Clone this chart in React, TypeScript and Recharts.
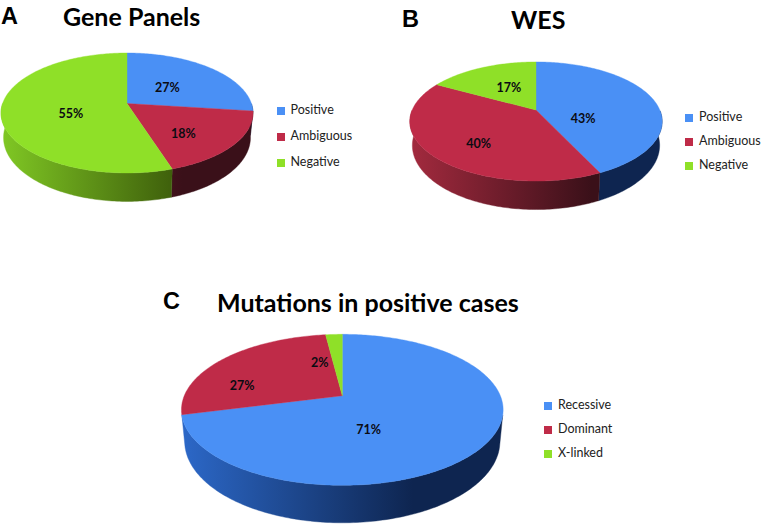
import React from "react";
import { PieChart, Pie, Cell, Legend } from "recharts";

const panelALabels = ["Positive", "Ambiguous", "Negative"];
const panelAValues = [27, 18, 55];
const panelBLabels = ["Positive", "Ambiguous", "Negative"];
const panelBValues = [43, 40, 17];
const panelCLabels = ["Recessive", "Dominant", "X-linked"];
const panelCValues = [71, 27, 2];

const BLUE = "#4a90f5";
const RED = "#bf2b48";
const GREEN = "#8fe028";
const WALLS: Record<string, [string, string]> = {
  [BLUE]: ["#2c68c8", "#0e2550"],
  [RED]: ["#a32a3e", "#3a1019"],
  [GREEN]: ["#80c824", "#3b5a0a"],
};

const toRows = (labels: string[], values: number[]) =>
  labels.map((name, i) => ({ name, value: values[i] }));

type View = { ratio: number; k: number; depth: number; shrink: number; wallFrom: number };

// Perspective projection of a point on the pie's circular face
function project(cx: number, cy: number, r: number, view: View, mathAngle: number, frac = 1) {
  const t = (mathAngle * Math.PI) / 180;
  const u = Math.cos(t) * frac;
  const v = -Math.sin(t) * frac;
  const w = 1 - view.k * v;
  return { x: cx + (r * u) / w, y: cy + (r * view.ratio * v) / w, w, v };
}

function arc(cx: number, cy: number, r: number, view: View, startAngle: number, endAngle: number) {
  const lo = Math.min(startAngle, endAngle);
  const hi = Math.max(startAngle, endAngle);
  const steps = Math.max(2, Math.ceil(hi - lo));
  const pts: { x: number; y: number; w: number; v: number }[] = [];
  for (let i = 0; i <= steps; i++) {
    const a = lo + ((hi - lo) * i) / steps;
    pts.push(project(cx, cy, r, view, a));
  }
  return pts;
}

function makeTop(view: View) {
  return function TopSlice(props: any) {
    const { cx, cy, outerRadius: r, startAngle, endAngle, fill } = props;
    const rim = arc(cx, cy, r, view, startAngle, endAngle);
    const d = `M${cx},${cy} ` + rim.map((p) => `L${p.x.toFixed(2)},${p.y.toFixed(2)}`).join(" ") + " Z";
    return <path d={d} fill={fill} stroke={fill} strokeWidth={0.4} />;
  };
}

function makeWall(id: string, view: View) {
  return function WallSlice(props: any) {
    const { cx, cy, outerRadius: r, startAngle, endAngle, fill, index } = props;
    // the part of the rim that faces the viewer
    const front = arc(cx, cy, r, view, startAngle, endAngle).filter((p) => p.v >= view.wallFrom);
    if (front.length < 2) return <g />;
    const lower = [...front]
      .reverse()
      .map((p) => `${(cx + (p.x - cx) * view.shrink).toFixed(2)},${(p.y + view.depth / p.w).toFixed(2)}`);
    const d = "M" + front.map((p) => `${p.x.toFixed(2)},${p.y.toFixed(2)}`).join(" L") + " L" + lower.join(" L") + " Z";
    const gid = `${id}-wall-${index}`;
    const halfW = r / Math.sqrt(1 - view.k * view.k);
    const [light, dark] = WALLS[fill] || [fill, fill];
    return (
      <g>
        <defs>
          <linearGradient id={gid} gradientUnits="userSpaceOnUse" x1={cx - halfW} x2={cx + halfW} y1={0} y2={0}>
            <stop offset="0" stopColor={light} />
            <stop offset="0.72" stopColor={dark} />
            <stop offset="1" stopColor={dark} />
          </linearGradient>
        </defs>
        <path d={d} fill={`url(#${gid})`} stroke={`url(#${gid})`} strokeWidth={0.4} />
      </g>
    );
  };
}

function makeLabel(view: View, nudges: [number, number][]) {
  return function SliceLabel(props: any) {
    const { cx, cy, outerRadius: r, midAngle, value, index } = props;
    const p = project(cx, cy, r, view, midAngle, 0.5);
    const [dx, dy] = nudges[index];
    return (
      <text
        x={p.x + dx}
        y={p.y + dy}
        textAnchor="middle"
        dominantBaseline="central"
        fontFamily="Lato"
        fontWeight={700}
        fontSize={12.5}
        fill="#0b0b12"
      >
        {`${value}%`}
      </text>
    );
  };
}

const Panel = ({
  id, rows, colors, box, center, radius, view, nudges, legendPos, legendLine, letter, letterPos, title, titlePos,
}: any) => {
  const Top = makeTop(view);
  const Wall = makeWall(id, view);
  const Label = makeLabel(view, nudges);
  const cells = rows.map((r: any, i: number) => <Cell key={r.name} fill={colors[i]} />);
  const common = {
    data: rows,
    dataKey: "value",
    nameKey: "name",
    cx: center[0],
    cy: center[1],
    innerRadius: 0,
    outerRadius: radius,
    startAngle: 90,
    endAngle: -270,
    stroke: "none",
    paddingAngle: 0,
    isAnimationActive: false,
  };
  return (
    <>
      <div style={{ position: "absolute", left: box[0], top: box[1] }}>
        <PieChart width={box[2]} height={box[3]} margin={{ top: 0, right: 0, bottom: 0, left: 0 }}>
          <Pie {...common} shape={Wall} legendType="none" label={false} labelLine={false}>
            {cells}
          </Pie>
          <Pie {...common} shape={Top} label={Label} labelLine={false}>
            {cells}
          </Pie>
          <Legend
            layout="vertical"
            align="right"
            verticalAlign="top"
            iconType="square"
            iconSize={8}
            itemSorter={null}
            wrapperStyle={{ left: legendPos[0], top: legendPos[1], right: "auto", width: 90, fontFamily: "Lato", fontSize: 12.5 }}
            formatter={(v: string) => (
              <span style={{ color: "#222", lineHeight: legendLine + "px", marginLeft: 2 }}>{v}</span>
            )}
          />
        </PieChart>
      </div>
      <div style={{ position: "absolute", left: letterPos[0], top: letterPos[1], fontFamily: "Liberation Sans", fontWeight: 700, fontSize: 23.5, lineHeight: "26px", color: "#000" }}>
        {letter}
      </div>
      <div style={{ position: "absolute", left: titlePos[0], top: titlePos[1], fontFamily: "Lato", fontWeight: 700, fontSize: 25, lineHeight: "30px", color: "#000", whiteSpace: "nowrap" }}>
        {title}
      </div>
    </>
  );
};

export default function App() {
  return (
    <div style={{ position: "absolute", left: 0, top: 0, width: 762, height: 524, background: "#fff", overflow: "hidden" }}>
      <Panel
        id="a"
        rows={toRows(panelALabels, panelAValues)}
        colors={[BLUE, RED, GREEN]}
        box={[0, 0, 381, 215]}
        center={[127, 103.5]}
        radius={124.4}
        view={{ ratio: 0.47, k: 0.158, depth: 24, shrink: 0.98, wallFrom: 0 }}
        nudges={[[-4, 2], [6, 10], [6, 5]]}
        legendPos={[276.5, 97]}
        legendLine={26}
        letter="A"
        letterPos={[1, 3]}
        title="Gene Panels"
        titlePos={[63, 1]}
      />
      <Panel
        id="b"
        rows={toRows(panelBLabels, panelBValues)}
        colors={[BLUE, RED, GREEN]}
        box={[381, 0, 400, 215]}
        center={[155, 110]}
        radius={123.8}
        view={{ ratio: 0.463, k: 0.193, depth: 23, shrink: 0.98, wallFrom: 0 }}
        nudges={[[-12, 15], [-9, 12], [2, 0]]}
        legendPos={[304, 105]}
        legendLine={24}
        letter="B"
        letterPos={[402, 6]}
        title="WES"
        titlePos={[511, 4]}
      />
      <Panel
        id="c"
        rows={toRows(panelCLabels, panelCValues)}
        colors={[BLUE, RED, GREEN]}
        box={[150, 280, 612, 244]}
        center={[192.3, 115.7]}
        radius={158}
        view={{ ratio: 0.461, k: 0.187, depth: 30.5, shrink: 0.98, wallFrom: 0.24 }}
        nudges={[[-40, 10], [-38, 9], [-18, 0]]}
        legendPos={[394, 113.3]}
        legendLine={24}
        letter="C"
        letterPos={[163, 288]}
        title="Mutations in positive cases"
        titlePos={[217, 287]}
      />
    </div>
  );
}
